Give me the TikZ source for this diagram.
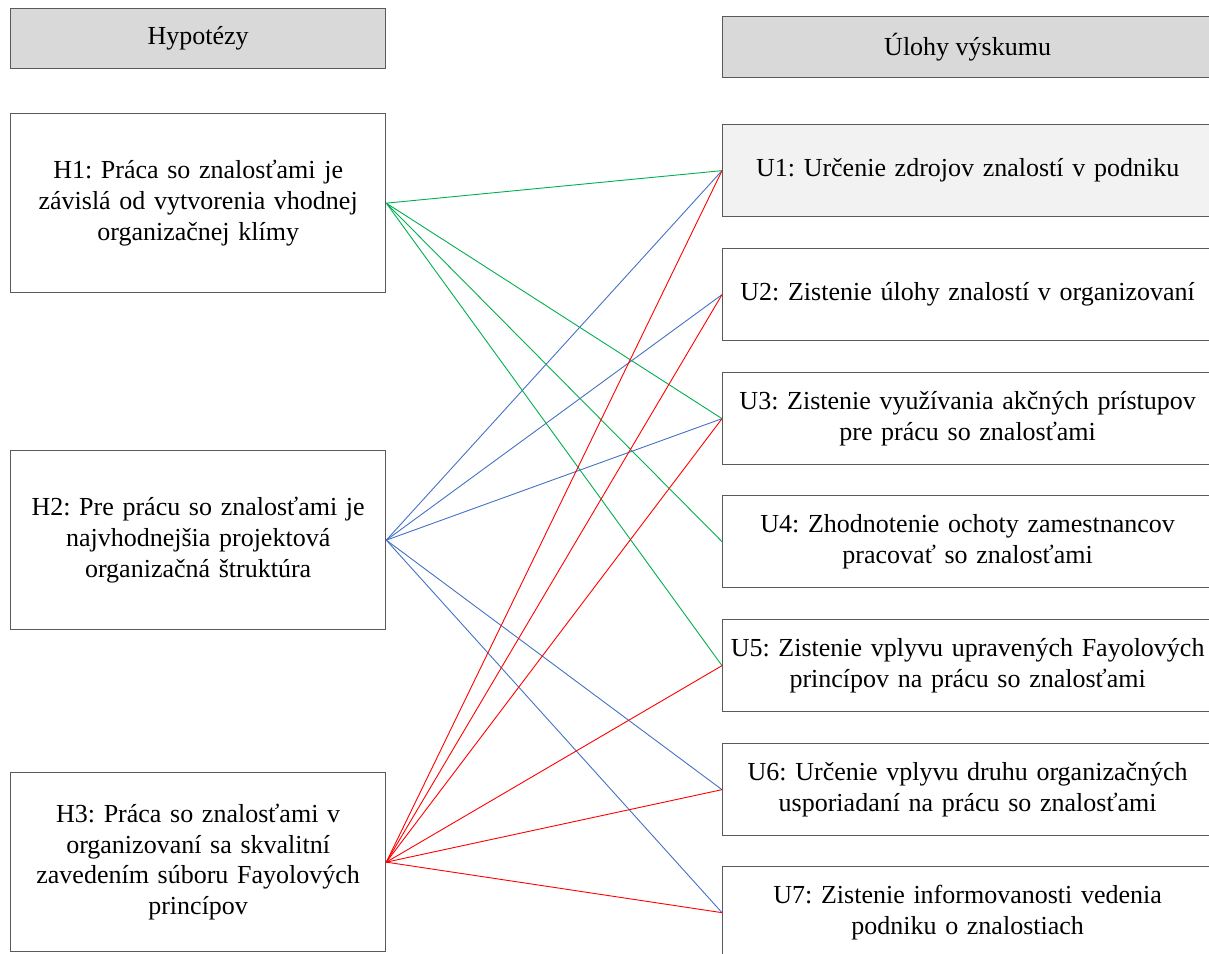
\documentclass[tikz,border=0pt]{standalone}
\usepackage{fontspec}
\setmainfont{Liberation Serif}
\frenchspacing
\definecolor{boxline}{HTML}{5A5A5A}
\definecolor{headfill}{HTML}{D9D9D9}
\definecolor{lightfill}{HTML}{F2F2F2}
\definecolor{lgreen}{HTML}{00B050}
\definecolor{lblue}{HTML}{4472C4}
\definecolor{lred}{HTML}{FF0000}
\begin{document}
\begin{tikzpicture}[x=1pt,y=-1pt,
  box/.style={draw=boxline,line width=1.3pt,anchor=north west,inner sep=0pt,
    align=center,font=\fontsize{26}{30.8}\selectfont},
  hbox/.style={box,minimum width=375pt,minimum height=179pt,text width=365pt},
  ubox/.style={box,minimum width=490pt,minimum height=92pt,text width=484pt},
  head/.style={fill=headfill},
  green link/.style={draw=lgreen,line width=0.9pt},
  blue link/.style={draw=lblue,line width=0.9pt},
  red link/.style={draw=lred,line width=0.9pt}]
\useasboundingbox (0,0) rectangle (1209,953);
\begin{scope}
\clip (0,0) rectangle (1209,953);
% column headers
\node[box,head,minimum width=375pt,minimum height=60pt] (hh) at (10,8) {Hypotézy};
\node[box,head,minimum width=490pt,minimum height=61pt] (uh) at (722,16) {Úlohy výskumu};
% hypotheses
\node[hbox] (h1) at (10,113) {H1: Práca so znalosťami je\\závislá od vytvorenia vhodnej\\organizačnej klímy};
\node[hbox] (h2) at (10,450) {H2: Pre prácu so znalosťami je\\najvhodnejšia projektová\\organizačná štruktúra};
\node[hbox] (h3) at (10,772) {H3: Práca so znalosťami v\\organizovaní sa skvalitní\\zavedením súboru Fayolových\\princípov};
% research tasks
\node[ubox,fill=lightfill] (u1) at (722,124) {U1: Určenie zdrojov znalostí v podniku};
\node[ubox] (u2) at (722,248) {U2: Zistenie úlohy znalostí v organizovaní};
\node[ubox] (u3) at (722,372) {U3: Zistenie využívania akčných prístupov\\pre prácu so znalosťami};
\node[ubox] (u4) at (722,495) {U4: Zhodnotenie ochoty zamestnancov\\pracovať so znalosťami};
\node[ubox] (u5) at (722,619) {U5: Zistenie vplyvu upravených Fayolových\\princípov na prácu so znalosťami};
\node[ubox] (u6) at (722,743) {U6: Určenie vplyvu druhu organizačných\\usporiadaní na prácu so znalosťami};
\node[ubox] (u7) at (722,866) {U7: Zistenie informovanosti vedenia\\podniku o znalostiach};
% links from H1
\foreach \u in {u1,u3,u4,u5} \draw[green link] (h1.east) -- (\u.west);
% links from H2
\foreach \u in {u1,u2,u3,u6,u7} \draw[blue link] (h2.east) -- (\u.west);
% links from H3
\foreach \u in {u1,u2,u3,u5,u6,u7} \draw[red link] (h3.east) -- (\u.west);
\end{scope}
\end{tikzpicture}
\end{document}
